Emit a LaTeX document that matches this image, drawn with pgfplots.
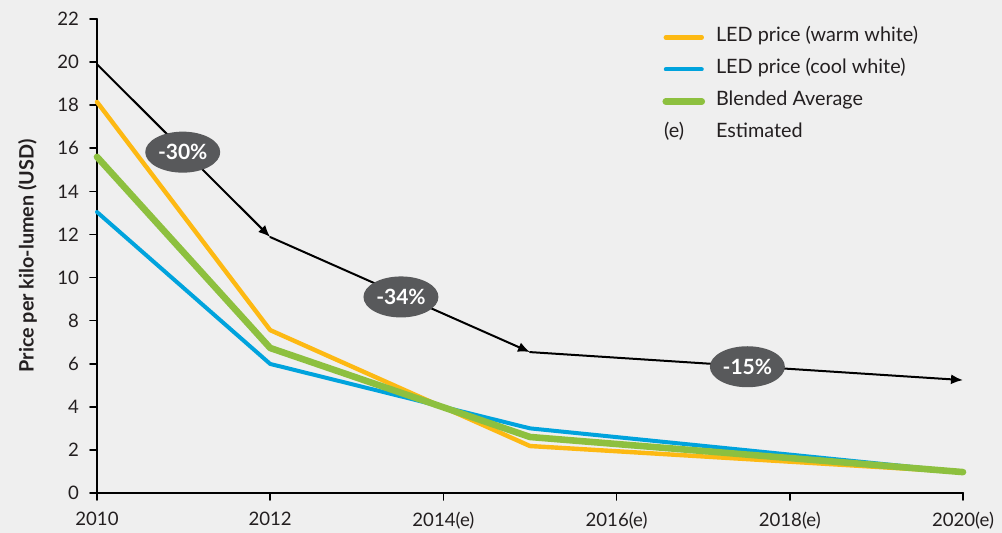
\documentclass[border=0pt]{standalone}
\usepackage{fontspec}
\setmainfont{Lato}
\usepackage{pgfplots}
\pgfplotsset{compat=1.18}
\usetikzlibrary{shapes.geometric,arrows.meta}
\definecolor{bg}{HTML}{EFEFEF}
\definecolor{warm}{HTML}{FDB913}
\definecolor{cool}{HTML}{00A3DD}
\definecolor{blend}{HTML}{8DC03F}
\definecolor{pill}{HTML}{58595B}
\definecolor{txt}{HTML}{231F20}
\newcommand\tickfont{\fontsize{9.3bp}{11bp}\selectfont}
\newcommand\legfont{\fontsize{9.9bp}{11bp}\selectfont}
\newcommand\pillfont{\fontsize{10.5bp}{12bp}\selectfont}
\begin{document}
\begin{tikzpicture}
\fill[bg] (-48.5bp,-20bp) rectangle (452.5bp,246.5bp);
\path[use as bounding box] (-48.5bp,-20bp) rectangle (452.5bp,246.5bp);
\begin{axis}[
  scale only axis, width=433bp, height=237bp,
  xmin=2010, xmax=2020, ymin=0, ymax=22,
  clip=false,
  axis lines=left,
  axis line style={-, line width=1bp, black},
  xtick={2010,2012,2014,2016,2018,2020},
  xticklabels={2010,2012,2014(e),2016(e),2018(e),2020(e)},
  ytick={0,2,...,22},
  tick align=outside, major tick length=3.5bp,
  tick style={line width=0.8bp, black},
  /pgf/number format/assume math mode=true,
  ticklabel style={font=\tickfont, text=txt},
  xticklabel style={yshift=-2.5bp},
  yticklabel style={xshift=-2bp},
  ylabel={Price per kilo-lumen (USD)},
  ylabel style={font=\bfseries\legfont, text=txt, at={(axis description cs:-0.0803,0.5)}, anchor=center},
  legend style={at={(axis description cs:0.6456,0.9883)}, anchor=north west, draw=none, fill=none,
    font=\legfont, text=txt, row sep=7.5bp,
    nodes={inner sep=0pt, text height=6.5bp, text depth=2bp},
    /tikz/every odd column/.append style={column sep=5.5bp}},
  legend cell align=left,
  legend image code/.code={\draw[#1, line cap=round] (1bp,0bp) -- (19bp,0bp);},
  line cap=round, line join=round,
]
\addplot[warm, line width=2.2bp] coordinates {(2010,18.15) (2012,7.56) (2015,2.18) (2020,0.97)};
\addlegendentry{LED price (warm white)}
\addplot[cool, line width=2bp] coordinates {(2010,13.04) (2012,5.99) (2015,3.0) (2020,0.97)};
\addlegendentry{LED price (cool white)}
\addplot[blend, line width=3.3bp] coordinates {(2010,15.6) (2012,6.73) (2015,2.6) (2020,0.97)};
\addlegendentry{Blended Average}
\addlegendimage{legend image code/.code={\node[anchor=west, inner sep=0pt, font=\legfont, text=txt] at (0bp,0bp) {(e)};}}
\addlegendentry{Estimated}

\addplot[black, line width=1bp, -{Latex[length=6bp,width=5bp]}, forget plot] coordinates {(2010,19.9) (2012,11.88)};
\addplot[black, line width=1bp, -{Latex[length=6bp,width=5bp]}, forget plot] coordinates {(2012,11.88) (2015,6.54)};
\addplot[black, line width=1bp, -{Latex[length=6bp,width=5bp]}, forget plot] coordinates {(2015,6.54) (2020,5.24)};

\node[ellipse, fill=pill, text=white, font=\bfseries\pillfont, minimum width=37.5bp, minimum height=20.5bp, inner sep=0pt] at (axis cs:2010.99,15.82) {-30\%};
\node[ellipse, fill=pill, text=white, font=\bfseries\pillfont, minimum width=37.5bp, minimum height=20.5bp, inner sep=0pt] at (axis cs:2013.51,9.1) {-34\%};
\node[ellipse, fill=pill, text=white, font=\bfseries\pillfont, minimum width=37.5bp, minimum height=20.5bp, inner sep=0pt] at (axis cs:2017.51,5.86) {-15\%};
\end{axis}
\end{tikzpicture}
\end{document}
